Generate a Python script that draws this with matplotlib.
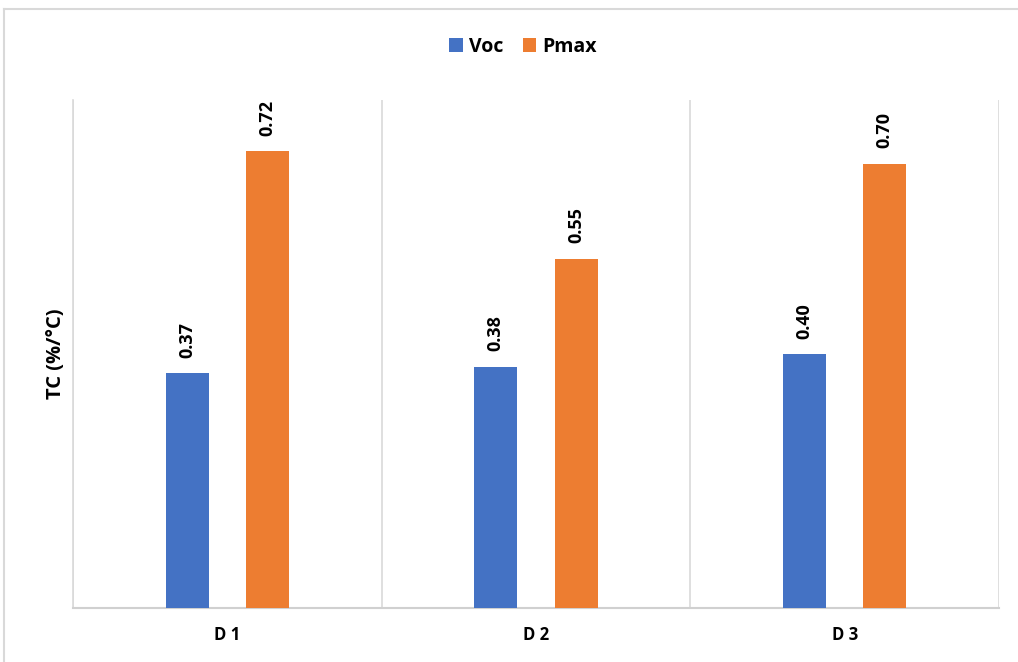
import matplotlib
matplotlib.use("Agg")
import matplotlib.pyplot as plt
import numpy as np
from matplotlib.lines import Line2D

categories = ["D1", "D2", "D3"]
voc = [0.37, 0.38, 0.40]
pmax = [0.72, 0.55, 0.70]
series_names = ["Voc", "Pmax"]
colors = ["#4472C4", "#ED7D31"]

plt.rcParams["font.family"] = ["Open Sans", "DejaVu Sans"]

fig = plt.figure(figsize=(10.18, 6.62), dpi=100)
ax = fig.add_axes([73 / 1018, 1 - 608 / 662, (999 - 73) / 1018, (608 - 100) / 662])

x = np.arange(len(categories))
width = 0.14
offset = 0.13
bars_v = ax.bar(x - offset, voc, width, color=colors[0], label=series_names[0], zorder=3)
bars_p = ax.bar(x + offset, pmax, width, color=colors[1], label=series_names[1], zorder=3)

for bars, vals in ((bars_v, voc), (bars_p, pmax)):
    for b, v in zip(bars, vals):
        ax.annotate(f"{v:.2f}", (b.get_x() + b.get_width() / 2, v),
                    xytext=(0, 11), textcoords="offset points",
                    rotation=90, ha="center", va="bottom",
                    fontsize=13, fontweight="bold", color="#000000")

ax.set_xlim(-0.5, len(categories) - 0.5)
ax.set_ylim(0, 0.8)
ax.set_yticks([])
ax.set_xticks(x)
ax.set_xticklabels([" ".join(c) for c in categories], fontsize=12, fontweight="bold")
ax.tick_params(axis="x", length=0, pad=13)

# category separators
ax.set_xticks(np.arange(len(categories) + 1) - 0.5, minor=True)
ax.tick_params(axis="x", which="minor", length=0)
ax.grid(axis="x", which="minor", color="#d9d9d9", linewidth=1.2, zorder=0)

for s in ("top", "right"):
    ax.spines[s].set_visible(False)
ax.spines["left"].set_color("#d9d9d9")
ax.spines["left"].set_linewidth(1.2)
ax.spines["bottom"].set_color("#d0d0d0")
ax.spines["bottom"].set_linewidth(1.5)

ax.set_ylabel("TC (%/°C)", fontsize=14.5, fontweight="bold", labelpad=5)

fig.legend(loc="center", bbox_to_anchor=(523 / 1018, 1 - 47 / 662), ncol=2,
           frameon=False, handlelength=0.7, handleheight=0.7, handletextpad=0.3,
           columnspacing=1.0, prop={"size": 14, "weight": "bold"})

# chart-area border
fig.add_artist(Line2D([4 / 1018, 1.0], [1 - 9 / 662, 1 - 9 / 662], color="#d9d9d9", linewidth=1.5))
fig.add_artist(Line2D([4 / 1018, 4 / 1018], [0, 1 - 9 / 662], color="#d9d9d9", linewidth=1.5))

fig.savefig("out.png", dpi=100)
